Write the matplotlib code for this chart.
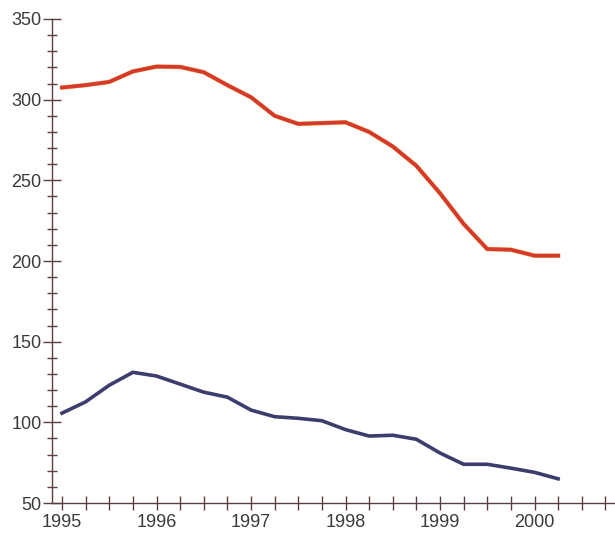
import matplotlib
matplotlib.use("Agg")
import matplotlib.pyplot as plt
from matplotlib.ticker import MultipleLocator, FixedLocator
import matplotlib.patheffects as pe

quarters = [1995.00, 1995.25, 1995.50, 1995.75, 1996.00, 1996.25, 1996.50, 1996.75,
            1997.00, 1997.25, 1997.50, 1997.75, 1998.00, 1998.25, 1998.50, 1998.75,
            1999.00, 1999.25, 1999.50, 1999.75, 2000.00, 2000.25]
red_series = [307.5, 309, 311, 317.5, 320.5, 320.3, 317, 309,
              301.5, 290, 285, 285.5, 286, 280, 271, 259,
              242, 223, 207.4, 207, 203.3, 203.3]
blue_series = [105.7, 112.7, 123, 131, 128.7, 123.7, 118.7, 115.6,
               107.6, 103.5, 102.5, 101, 95.5, 91.5, 92, 89.5,
               81, 74, 74, 71.6, 69, 65]
year_ticks = [1995, 1996, 1997, 1998, 1999, 2000]
year_labels = ["1995", "1996", "1997", "1998", "1999", "2000"]
y_ticks = [50, 100, 150, 200, 250, 300, 350]

plt.rcParams['font.family'] = ['Liberation Sans', 'DejaVu Sans']

fig = plt.figure(figsize=(6.15, 5.35), dpi=100)
ax = fig.add_axes([52/615, 32/535, (615-52)/615, (503-19)/535])

ax.plot(quarters, red_series, color='#d6382b', lw=2.6, solid_joinstyle='round',
        path_effects=[pe.Stroke(linewidth=3.2, foreground='#e8a850'), pe.Normal()])
ax.plot(quarters, blue_series, color='#3c3d6c', lw=2.6, solid_joinstyle='round')

ax.set_xlim(1995 - 10/94.5, 1995 + (615-62)/94.5)
ax.set_ylim(50, 350)

for s in ['top', 'right']:
    ax.spines[s].set_visible(False)
axis_col = '#5a4040'
for s in ['left', 'bottom']:
    ax.spines[s].set_color(axis_col)
    ax.spines[s].set_linewidth(1.0)

ax.xaxis.set_major_locator(FixedLocator(year_ticks))
ax.set_xticklabels(year_labels)
ax.xaxis.set_minor_locator(MultipleLocator(0.25))
ax.yaxis.set_major_locator(FixedLocator(y_ticks))
ax.yaxis.set_minor_locator(MultipleLocator(10))

ax.tick_params(axis='x', which='both', direction='inout', length=10, width=1.0,
               color=axis_col, labelsize=13, labelcolor='#3a3a3a', pad=3)
ax.tick_params(axis='y', which='major', direction='inout', length=13, width=1.0,
               color=axis_col, labelsize=13, labelcolor='#3a3a3a', pad=1)
ax.tick_params(axis='y', which='minor', direction='inout', length=6.5, width=1.0,
               color=axis_col)

fig.savefig("out.png", dpi=100)
